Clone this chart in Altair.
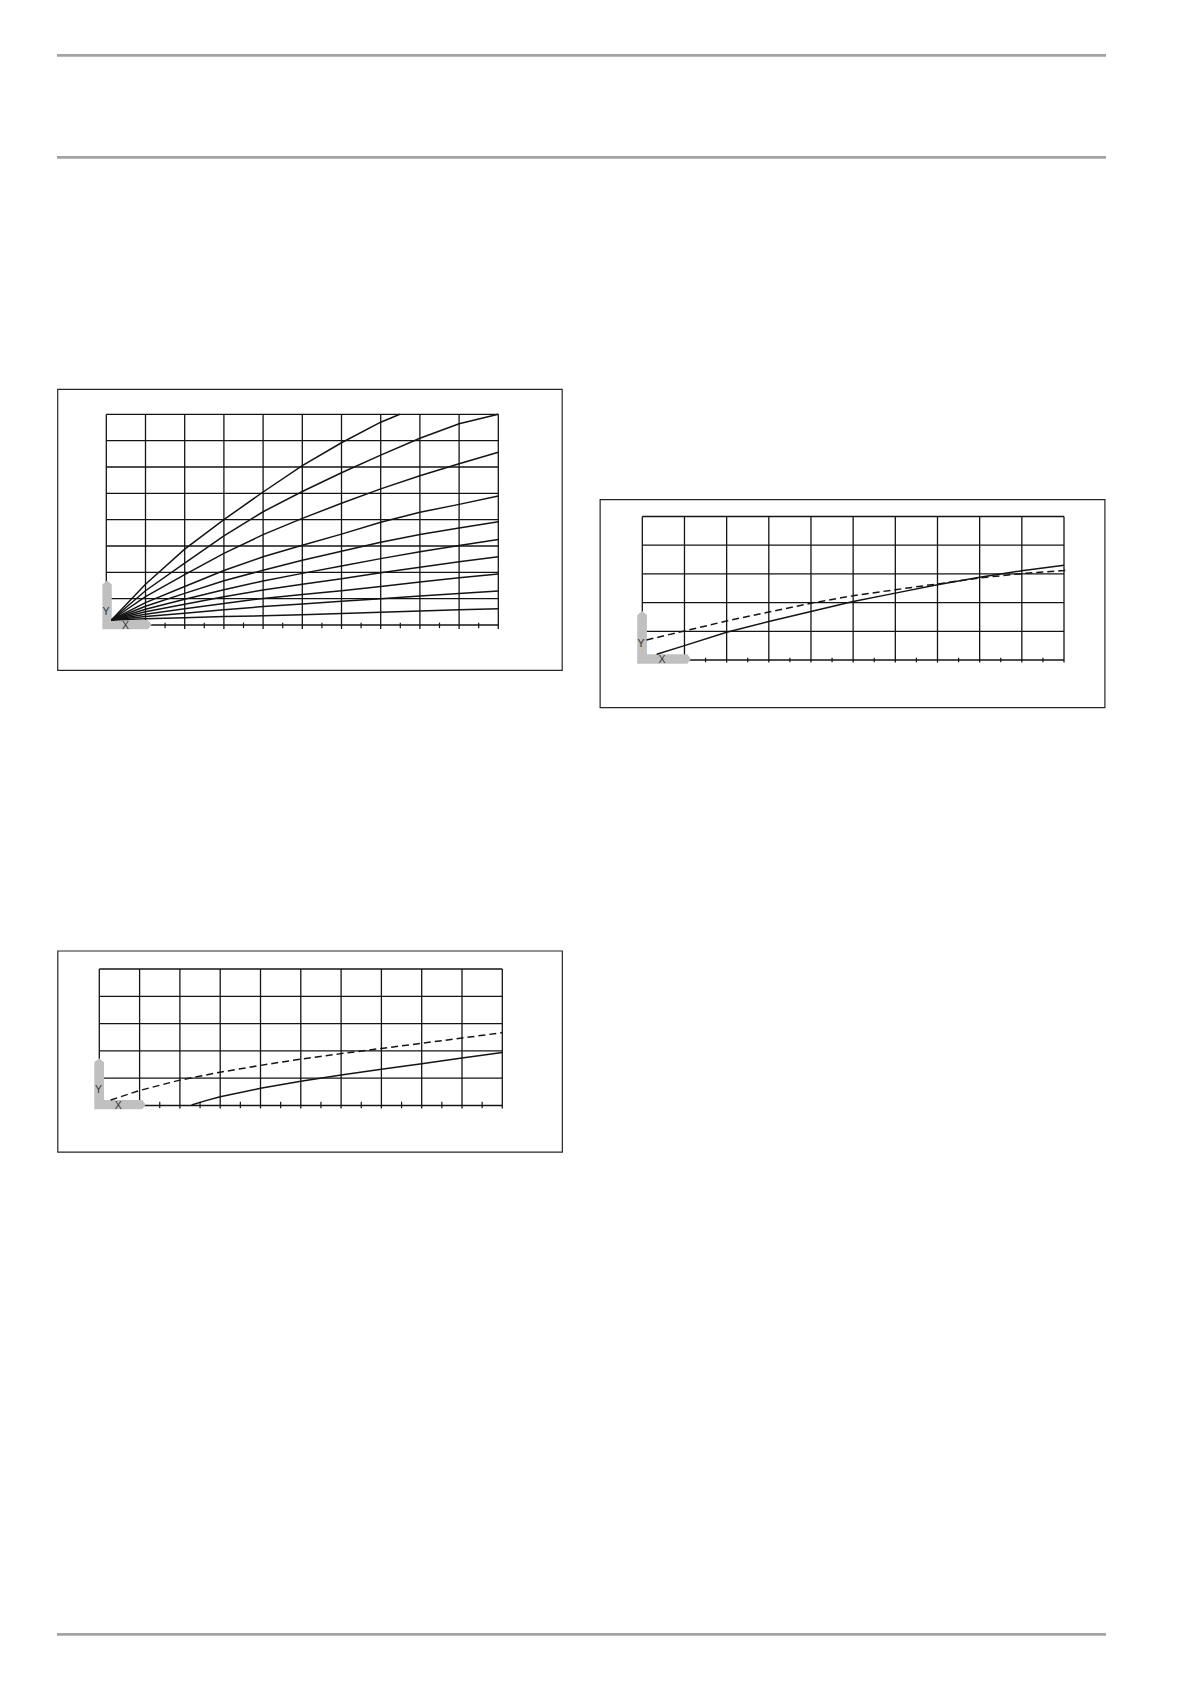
import altair as alt
import pandas as pd

# ---------------- data ----------------
# Panel A (top-left): family of curves, x in grid columns (0..10), y in grid rows (0..8)
A_X = [0.13, 1, 2, 3, 4, 5, 6, 7, 8, 9, 10]
A_TOP_X = [0.13, 1, 2, 3, 4, 5, 6, 7, 7.49]
A_TOP_Y = [0.19, 1.55, 2.88, 4.0, 5.05, 6.05, 6.92, 7.7, 8.0]
A_C2 = [0.19, 1.30, 2.35, 3.38, 4.30, 5.07, 5.78, 6.45, 7.09, 7.64, 8.00]
A_C3 = [0.19, 1.08, 1.91, 2.72, 3.43, 4.05, 4.62, 5.17, 5.67, 6.12, 6.56]
A_C4 = [0.19, 0.85, 1.46, 2.07, 2.59, 3.03, 3.45, 3.90, 4.28, 4.58, 4.90]
A_C5 = [0.19, 0.71, 1.20, 1.68, 2.08, 2.46, 2.80, 3.14, 3.44, 3.68, 3.92]
A_C6 = [0.19, 0.60, 0.98, 1.34, 1.67, 1.96, 2.24, 2.52, 2.78, 3.02, 3.25]
A_C7 = [0.19, 0.50, 0.79, 1.07, 1.33, 1.55, 1.76, 1.98, 2.19, 2.40, 2.59]
A_C8 = [0.19, 0.41, 0.62, 0.82, 1.01, 1.16, 1.30, 1.46, 1.63, 1.79, 1.94]
A_C9 = [0.19, 0.32, 0.45, 0.58, 0.70, 0.80, 0.90, 1.00, 1.10, 1.20, 1.29]
A_C10 = [0.19, 0.24, 0.28, 0.32, 0.35, 0.39, 0.44, 0.48, 0.53, 0.58, 0.62]
A_GRID_Y = [0, 1, 2, 3, 4, 5, 6, 7, 8]

# Panel B (bottom-left)
B_DASH_X = [0.28, 1, 2, 3, 4, 5, 6, 7, 8, 9, 10]
B_DASH_Y = [0.20, 0.55, 0.93, 1.22, 1.47, 1.70, 1.90, 2.09, 2.28, 2.47, 2.67]
B_SOLID_X = [2.29, 2.6, 3, 4, 5, 6, 7, 8, 9, 10]
B_SOLID_Y = [0.02, 0.16, 0.32, 0.63, 0.89, 1.12, 1.33, 1.53, 1.74, 1.94]
B_GRID_Y = [0, 1, 2, 3, 4, 5]

# Panel C (right)
C_DASH_X = [0.1, 1, 2, 3, 4, 5, 6, 7, 8, 9, 10, 10.06]
C_DASH_Y = [0.70, 1.01, 1.36, 1.67, 1.98, 2.24, 2.45, 2.65, 2.86, 3.01, 3.12, 3.13]
C_SOLID_X = [0.34, 1, 2, 3, 4, 5, 6, 7, 8, 9, 10]
C_SOLID_Y = [0.20, 0.50, 0.97, 1.34, 1.69, 2.04, 2.33, 2.62, 2.88, 3.11, 3.30]
C_GRID_Y = [0, 1, 2, 3, 4, 5]

GRID_X = [0, 1, 2, 3, 4, 5, 6, 7, 8, 9, 10]
MINOR_X = [0.5, 1.5, 2.5, 3.5, 4.5, 5.5, 6.5, 7.5, 8.5, 9.5]
AXIS_LABELS = ["Y", "X"]

# ---------------- layout / style ----------------
W, H = 1175, 1668
INK = "#141414"
GRAY = "#c0c0c0"

PANELS = {
    "A": dict(xr=[98.3, 490.3], yr=[617, 406.3], ydom=[0, 8],
              box=(-1.24, 11.63, -1.72, 8.95), major_lo=-0.15, minor=(-0.12, 0.09),
              L=dict(vL=-0.10, vR=0.14, vC=0.02, B=-0.165, Tb=1.54, Tt=1.69,
                     Ht=0.19, mid=0.012, Hb=1.06, Htip=1.16),
              lab=[(-0.01, 0.51), (0.49, -0.02)]),
    "B": dict(xr=[91.3, 494.3], yr=[1097.5, 961], ydom=[0, 5],
              box=(-1.03, 11.49, -1.71, 5.66), major_lo=-0.11, minor=(-0.10, 0.14),
              L=dict(vL=-0.124, vR=0.117, vC=0.0, B=-0.14, Tb=1.58, Tt=1.73,
                     Ht=0.20, mid=0.03, Hb=1.07, Htip=1.15),
              lab=[(-0.02, 0.56), (0.47, -0.01)]),
    "C": dict(xr=[634.3, 1056], yr=[652, 508.5], ydom=[0, 5],
              box=(-1.0, 10.97, -1.66, 5.59), major_lo=-0.09, minor=(-0.08, 0.08),
              L=dict(vL=-0.12, vR=0.11, vC=0.0, B=-0.13, Tb=1.57, Tt=1.71,
                     Ht=0.20, mid=0.035, Hb=1.07, Htip=1.15),
              lab=[(-0.03, 0.56), (0.47, 0.0)]),
}


def panel_layers(p, grid_y, solid, dashed):
    sx = alt.Scale(domain=[0, 10], range=p["xr"], nice=False, zero=False)
    sy = alt.Scale(domain=p["ydom"], range=p["yr"], nice=False, zero=False)

    def X(f):
        return alt.X(f, type="quantitative", scale=sx, axis=None)

    def Y(f):
        return alt.Y(f, type="quantitative", scale=sy, axis=None)

    layers = []
    x0, x1, y0, y1 = p["box"]
    box = pd.DataFrame({"x0": [x0], "x1": [x1], "y0": [y0], "y1": [y1]})
    layers.append(alt.Chart(box).mark_rect(fill="#ffffff", stroke="#262626", strokeWidth=1.2)
                  .encode(x=X("x0"), x2="x1", y=Y("y0"), y2="y1"))

    top = p["ydom"][1]
    vg = pd.DataFrame({"x": GRID_X, "y0": [p["major_lo"]] * len(GRID_X), "y1": [top] * len(GRID_X)})
    layers.append(alt.Chart(vg).mark_rule(color=INK, strokeWidth=1.3)
                  .encode(x=X("x"), y=Y("y0"), y2="y1"))
    hg = pd.DataFrame({"y": grid_y, "x0": [0] * len(grid_y), "x1": [10] * len(grid_y)})
    layers.append(alt.Chart(hg).mark_rule(color=INK, strokeWidth=1.3)
                  .encode(y=Y("y"), x=X("x0"), x2="x1"))
    mt = pd.DataFrame({"x": MINOR_X, "y0": [p["minor"][0]] * len(MINOR_X),
                       "y1": [p["minor"][1]] * len(MINOR_X)})
    layers.append(alt.Chart(mt).mark_rule(color=INK, strokeWidth=1.2)
                  .encode(x=X("x"), y=Y("y0"), y2="y1"))

    L = p["L"]
    ldf = pd.DataFrame({
        "x": [L["vL"], L["vC"], L["vR"], L["vR"] + 0.001, L["Hb"], L["Htip"]],
        "lo": [L["B"], L["B"], L["B"], L["B"], L["B"], L["mid"]],
        "hi": [L["Tb"], L["Tt"], L["Tb"], L["Ht"], L["Ht"], L["mid"]],
    })
    layers.append(alt.Chart(ldf).mark_area(color=GRAY, orient="vertical", opacity=1)
                  .encode(x=X("x"), y=alt.Y("lo", type="quantitative", scale=sy, axis=None, stack=False),
                          y2="hi"))

    tdf = pd.DataFrame({"t": AXIS_LABELS, "x": [p["lab"][0][0], p["lab"][1][0]],
                        "y": [p["lab"][0][1], p["lab"][1][1]]})
    layers.append(alt.Chart(tdf).mark_text(font="Liberation Sans", fontSize=10.5, color="#333333",
                                           align="center", baseline="middle")
                  .encode(x=X("x"), y=Y("y"), text="t"))

    if solid is not None:
        layers.append(alt.Chart(solid).mark_line(color=INK, strokeWidth=1.5)
                      .encode(x=X("x"), y=Y("y"), detail="s:N", order="o:Q"))
    if dashed is not None:
        layers.append(alt.Chart(dashed).mark_line(color=INK, strokeWidth=1.5, strokeDash=[7, 4])
                      .encode(x=X("x"), y=Y("y"), detail="s:N", order="o:Q"))
    return layers


def series_df(pairs):
    rows = []
    for name, xs, ys in pairs:
        for i, (a, b) in enumerate(zip(xs, ys)):
            rows.append({"s": name, "x": a, "y": b, "o": i})
    return pd.DataFrame(rows)


a_curves = [("c1", A_TOP_X, A_TOP_Y)] + [
    (f"c{i + 2}", A_X, ys) for i, ys in enumerate([A_C2, A_C3, A_C4, A_C5, A_C6, A_C7, A_C8, A_C9, A_C10])
]
layers = []
layers += panel_layers(PANELS["A"], A_GRID_Y, series_df(a_curves), None)
layers += panel_layers(PANELS["B"], B_GRID_Y, series_df([("solid", B_SOLID_X, B_SOLID_Y)]),
                       series_df([("dash", B_DASH_X, B_DASH_Y)]))
layers += panel_layers(PANELS["C"], C_GRID_Y, series_df([("solid", C_SOLID_X, C_SOLID_Y)]),
                       series_df([("dash", C_DASH_X, C_DASH_Y)]))

# page rules (header / footer lines), in page pixels
px = alt.Scale(domain=[0, 1191], range=[-8, 1183], nice=False, zero=False)
py = alt.Scale(domain=[0, 1684], range=[-8, 1676], nice=False, zero=False)
page = pd.DataFrame({"y": [55.3, 157.3, 1634.3], "x0": [57, 57, 57], "x1": [1106, 1106, 1106]})
layers.insert(0, alt.Chart(page).mark_rule(color="#a3a3a3", strokeWidth=2.7)
              .encode(y=alt.Y("y", type="quantitative", scale=py, axis=None),
                      x=alt.X("x0", type="quantitative", scale=px, axis=None), x2="x1"))

chart = (alt.layer(*layers)
         .resolve_scale(x="independent", y="independent")
         .properties(width=W, height=H, padding=0, autosize="none", background="white")
         .configure_view(strokeWidth=0))

chart.save("out.html", embed_options={"renderer": "svg", "actions": False})
